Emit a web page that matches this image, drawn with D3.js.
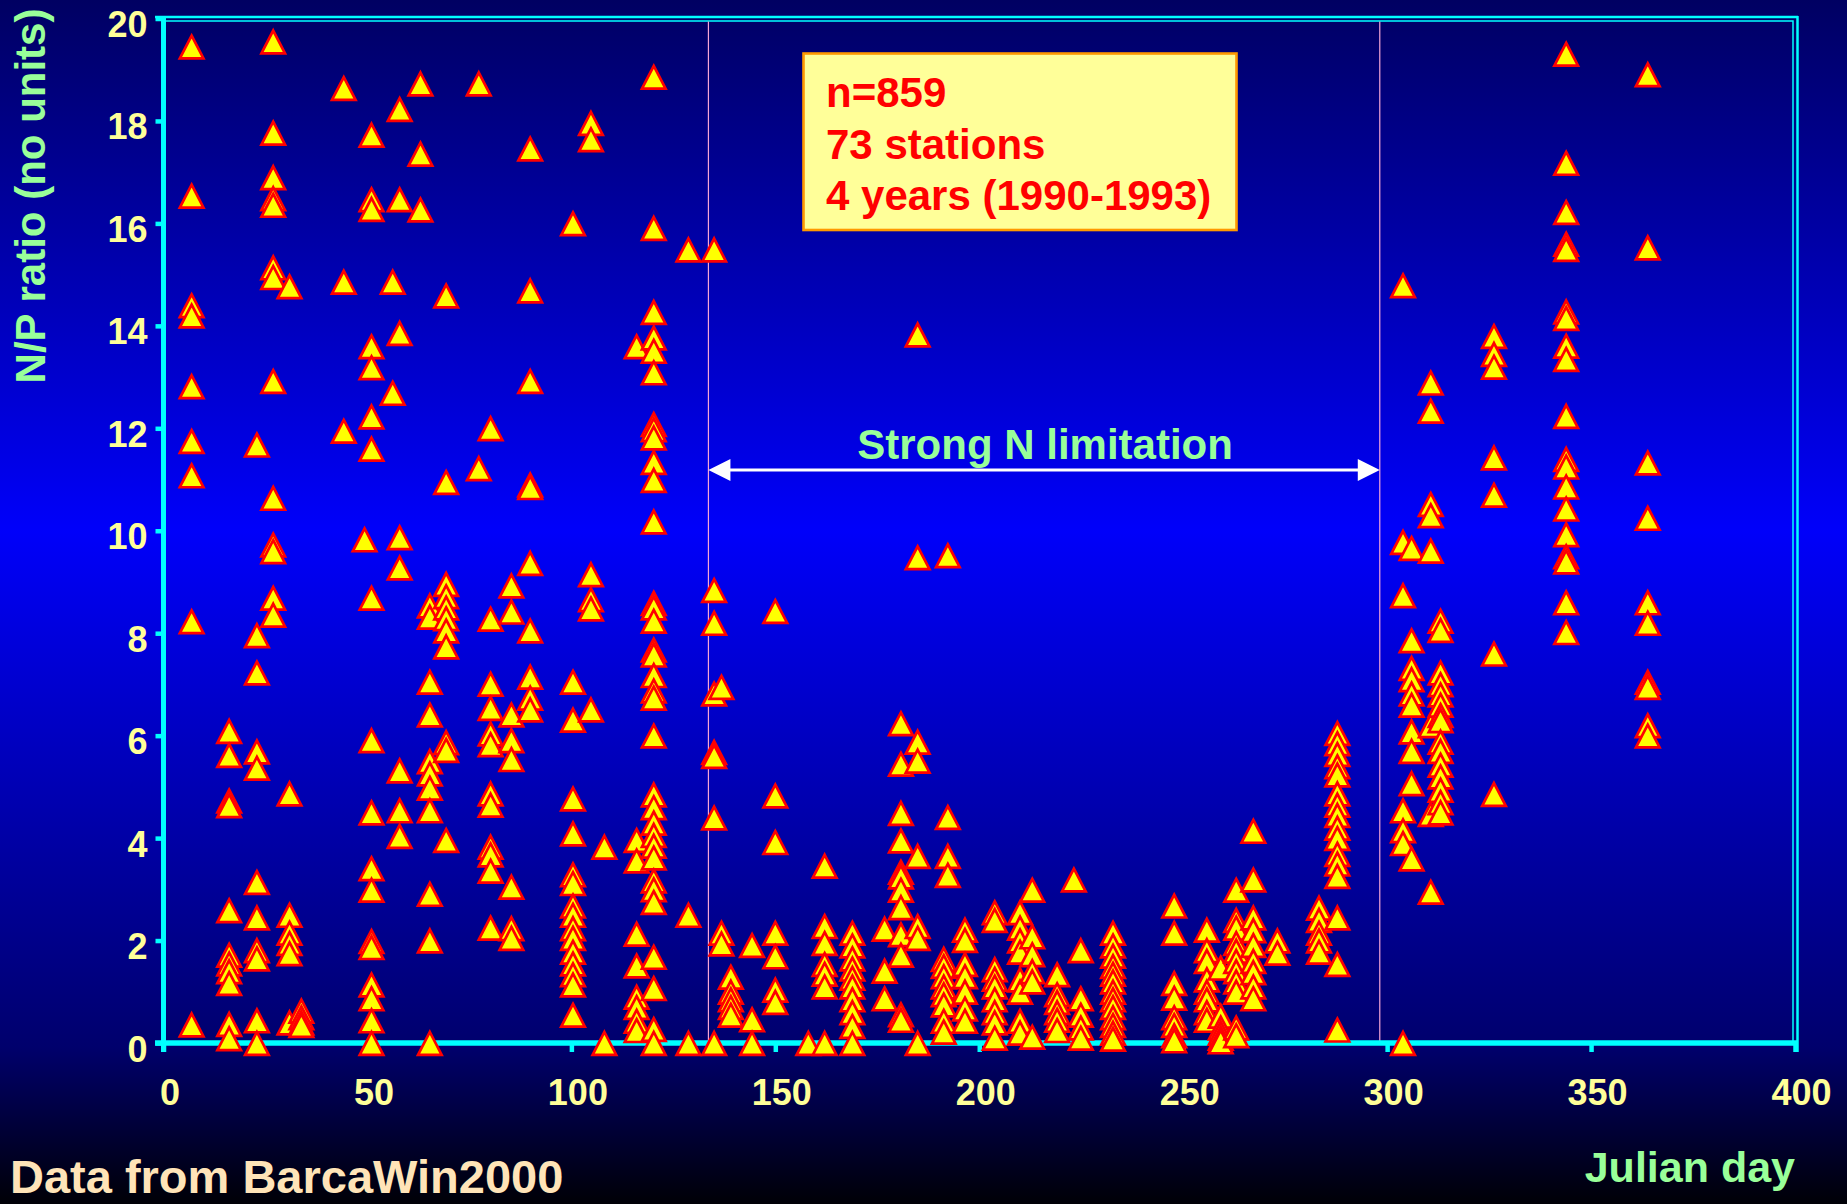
<!DOCTYPE html>
<html><head><meta charset="utf-8">
<script src="https://cdn.jsdelivr.net/npm/d3@7"></script>
<style>html,body{margin:0;padding:0;background:#000033;overflow:hidden}text{font-family:"Liberation Sans",Arial,sans-serif;font-weight:bold}</style>
</head><body>
<svg id="chart" width="1847" height="1204"></svg>
<script>
// ---- data ----
const xTickValues = [0, 50, 100, 150, 200, 250, 300, 350, 400];
const yTickValues = [0, 2, 4, 6, 8, 10, 12, 14, 16, 18, 20];
const limitationStartDay = 133.6;
const limitationEndDay = 298.2;
const infoLines = ["n=859", "73 stations", "4 years (1990-1993)"];

const julianDays = [6.9, 16.1, 22.9, 26.9, 30.9, 33.8, 44.2, 49.3, 51, 56.2, 57.9, 63, 65.3, 69.3, 77.3, 80.2, 85.3, 89.9,
  100.4, 104.8, 108.1, 116, 120.2, 128.7, 135, 136.8, 139.1, 144.3, 150, 158.1, 162.1, 168.9, 176.8, 180.8, 184.9,
  191.3, 192.3, 196.5, 203.8, 210, 213, 219.1, 223.2, 224.9, 232.8, 247.8, 255.8, 259.2, 263, 267.2, 273.1, 283.3,
  287.8, 303.9, 306, 310.7, 313.1, 326.2, 343.9, 363.9];

const npRatios = [
  [19.45, 16.54, 14.4, 14.2, 12.82, 11.75, 11.08, 8.23, 0.36],
  [6.09, 5.62, 4.73, 4.64, 2.59, 1.72, 1.55, 1.4, 1.17, 0.37, 0.09],
  [11.68, 7.96, 7.23, 5.69, 5.37, 3.14, 2.45, 1.81, 1.65, 0.44, 0],
  [19.55, 17.77, 16.9, 16.49, 16.36, 15.14, 14.95, 12.92, 10.64, 9.73, 9.6, 8.69, 8.36],
  [14.77, 4.87, 2.5, 2.15, 1.95, 1.75, 0.4],
  [0.63, 0.5, 0.4, 0.35],
  [18.64, 14.86, 11.95],
  [9.83],
  [17.73, 16.47, 16.28, 13.6, 13.19, 12.23, 11.6, 8.69, 5.91, 4.5, 3.41, 2.99, 1.99, 1.87, 1.14, 0.87, 0.44, 0],
  [14.86, 12.69],
  [18.23, 16.47, 13.86, 9.87, 9.28, 5.32, 4.54, 4.04],
  [18.73, 17.36, 16.27],
  [8.54, 8.32, 7.05, 6.41, 5.5, 5.26, 4.98, 4.54, 2.91, 2.0, 0],
  [14.59, 10.95, 8.96, 8.72, 8.5, 8.29, 8.05, 7.74, 5.87, 5.72, 3.96],
  [18.73, 11.22],
  [12.0, 8.28, 7.01, 6.54, 6.04, 5.83, 4.87, 4.65, 3.83, 3.68, 3.36, 2.25],
  [8.93, 8.42, 6.41, 5.91, 5.54, 3.05, 2.24, 2.05],
  [17.46, 14.69, 12.92, 10.9, 10.85, 9.37, 8.05, 7.15, 6.74, 6.51],
  [16.0, 7.05, 6.31, 4.77, 4.09, 3.29, 3.12, 2.68, 2.5, 2.24, 2.05, 1.78, 1.55, 1.34, 1.14, 0.55],
  [17.96, 17.64, 9.15, 8.66, 8.48, 6.51],
  [3.83, 0],
  [13.6, 3.96, 3.56, 2.13, 1.51, 0.9, 0.7, 0.43, 0.25],
  [18.86, 15.91, 14.27, 13.77, 13.51, 13.09, 12.08, 11.98, 11.82, 11.34, 10.99, 10.18, 8.59, 8.5, 8.24, 7.68, 7.58,
   7.18, 6.88, 6.74, 6.0, 4.85, 4.6, 4.3, 4.06, 3.85, 3.62, 3.17, 3.0, 2.75, 1.68, 1.07, 0.27, 0],
  [15.49, 2.5, 0],
  [15.49, 8.84, 8.2, 6.82, 5.68, 5.6, 4.4, 0],
  [6.95, 2.15, 1.94],
  [1.29, 1.0, 0.85, 0.7, 0.55],
  [1.91, 0.46, 0],
  [8.43, 4.83, 3.92, 2.15, 1.69, 1.04, 0.8],
  [0],
  [3.46, 2.28, 1.95, 1.54, 1.35, 1.1, 0],
  [2.15, 1.9, 1.65, 1.45, 1.27, 1.1, 0.85, 0.6, 0.33, 0],
  [2.23, 1.41, 0.87],
  [6.24, 5.45, 4.49, 3.95, 3.34, 3.25, 2.99, 2.65, 2.12, 1.72, 0.56, 0.45],
  [13.83, 9.48, 5.88, 5.51, 3.65, 2.28, 2.05, 0],
  [1.64, 1.5, 1.3, 1.1, 0.95, 0.75, 0.43, 0.22],
  [9.52, 4.41, 3.65, 3.28],
  [2.21, 2.01, 1.54, 1.3, 1.0, 0.67, 0.43],
  [2.55, 2.4, 1.44, 1.25, 1.1, 0.85, 0.6, 0.4, 0.1],
  [2.55, 2.25, 2.0, 1.78, 1.24, 1.0, 0.43, 0.2],
  [2.99, 2.08, 1.73, 1.4, 1.2, 0.12],
  [1.34, 0.95, 0.8, 0.6, 0.45, 0.25],
  [3.19],
  [1.81, 0.87, 0.55, 0.3, 0.1],
  [2.15, 1.9, 1.7, 1.5, 1.35, 1.2, 1.0, 0.85, 0.7, 0.5, 0.35, 0.2, 0.08],
  [2.68, 2.15, 1.17, 0.88, 0.5, 0.35, 0.15, 0.05],
  [2.21, 1.81, 1.6, 1.24, 1.0, 0.85, 0.6, 0.45],
  [1.47, 0.53, 0.3, 0.2, 0.1, 0.03],
  [2.99, 2.4, 2.25, 1.95, 1.8, 1.6, 1.4, 1.2, 1.0, 0.3, 0.15],
  [4.14, 3.19, 2.45, 2.2, 1.91, 1.6, 1.38, 1.1, 0.87],
  [2.0, 1.76],
  [2.64, 2.4, 2.15, 2.0, 1.78],
  [6.05, 5.85, 5.64, 5.4, 5.24, 4.87, 4.65, 4.45, 4.2, 4.0, 3.69, 3.5, 3.26, 2.45, 1.54, 0.26],
  [14.79, 9.78, 8.74, 4.54, 4.15, 3.9, 0],
  [9.66, 7.86, 7.32, 7.1, 6.82, 6.6, 6.08, 5.7, 5.07, 3.6],
  [12.89, 12.34, 10.52, 10.3, 9.61, 6.2, 4.47, 2.95],
  [8.24, 8.06, 7.23, 7.0, 6.8, 6.6, 6.4, 6.3, 5.88, 5.7, 5.43, 5.2, 4.94, 4.7, 4.5],
  [13.8, 13.45, 13.2, 11.43, 10.7, 7.6, 4.86],
  [19.31, 17.18, 16.22, 15.6, 15.5, 14.28, 14.15, 13.61, 13.35, 12.24, 11.4, 11.25, 10.86, 10.43, 9.93, 9.5, 9.4, 8.6, 8.02],
  [18.91, 15.53, 11.33, 10.25, 8.6, 8.2, 7.05, 6.95, 6.2, 6.0]
];

// ---- drawing ----
const W = 1847, H = 1204;
const svg = d3.select("#chart");
const x = d3.scaleLinear().domain([0, 400]).range([163.5, 1795]);
const y = d3.scaleLinear().domain([0, 20]).range([1043, 18.5]);

const defs = svg.append("defs");
const grad = defs.append("linearGradient").attr("id", "bg").attr("x1", 0).attr("y1", 0).attr("x2", 0).attr("y2", 1);
[[0, "#000062"], [0.44, "#0000fa"], [0.87, "#00006c"], [1, "#000006"]].forEach(([o, c]) =>
  grad.append("stop").attr("offset", o).attr("stop-color", c));
svg.append("rect").attr("width", W).attr("height", H).attr("fill", "url(#bg)");

const cyan = "#00ffff";
// plot frame (double line on top and right)
svg.append("rect").attr("x", x(0)).attr("y", y(20) + 2.5).attr("width", x(400) - x(0) - 2)
  .attr("height", y(0) - y(20) - 2.5).attr("fill", "none").attr("stroke", cyan).attr("stroke-width", 1.5);
svg.append("line").attr("x1", 155).attr("x2", x(400) + 3).attr("y1", y(20) - 1.5).attr("y2", y(20) - 1.5)
  .attr("stroke", cyan).attr("stroke-width", 2.5);
svg.append("line").attr("x1", x(400) + 2.5).attr("x2", x(400) + 2.5).attr("y1", y(20) - 2.5).attr("y2", y(0) + 9)
  .attr("stroke", cyan).attr("stroke-width", 2.5);

// strong N limitation guide lines
[limitationStartDay, limitationEndDay].forEach(d =>
  svg.append("line").attr("x1", x(d)).attr("x2", x(d)).attr("y1", y(20) + 3).attr("y2", y(0))
    .attr("stroke", "#f4a6d6").attr("stroke-width", 1.2));

// axes
const yAxis = d3.axisLeft(y).tickValues(yTickValues).tickSize(8).tickPadding(8).tickSizeOuter(0);
const gy = svg.append("g").attr("transform", `translate(${x(0)},0)`).call(yAxis);
gy.select(".domain").remove();
gy.selectAll(".tick line").attr("stroke", cyan).attr("stroke-width", 4.5);
gy.selectAll(".tick text").attr("fill", "#ffff99").attr("font-size", 36).attr("dy", "0.5em")
  .attr("font-family", "Liberation Sans, Arial, sans-serif").attr("font-weight", "bold");

const xAxis = d3.axisBottom(x).tickValues(xTickValues).tickSize(9).tickSizeOuter(0);
const gx = svg.append("g").attr("transform", `translate(0,${y(0)})`).call(xAxis);
gx.select(".domain").remove();
gx.selectAll(".tick line").attr("stroke", cyan).attr("stroke-width", 4.5);
gx.selectAll(".tick text").attr("fill", "#ffff99").attr("font-size", 36).attr("y", 62).attr("dy", 0).attr("dx", 6)
  .attr("font-family", "Liberation Sans, Arial, sans-serif").attr("font-weight", "bold");

svg.append("line").attr("x1", x(0)).attr("x2", x(0)).attr("y1", y(20) - 2.5).attr("y2", y(0) + 9)
  .attr("stroke", cyan).attr("stroke-width", 5);
svg.append("line").attr("x1", 155).attr("x2", x(400) + 3).attr("y1", y(0)).attr("y2", y(0))
  .attr("stroke", cyan).attr("stroke-width", 5.5);

// axis titles & footer
svg.append("text").attr("transform", `translate(45,${196}) rotate(-90)`).attr("text-anchor", "middle")
  .attr("font-size", 42).attr("fill", "#99ff99").text("N/P ratio (no units)");
svg.append("text").attr("x", x(400)).attr("y", 1182).attr("text-anchor", "end")
  .attr("font-size", 43).attr("fill", "#99ff99").text("Julian day");
svg.append("text").attr("x", 10).attr("y", 1193).attr("font-size", 47).attr("fill", "#ffe4b8")
  .text("Data from BarcaWin2000");

// info box
svg.append("rect").attr("x", 803.5).attr("y", 53.5).attr("width", 433).attr("height", 176.5)
  .attr("fill", "#ffff99").attr("stroke", "#ff9900").attr("stroke-width", 2.6);
infoLines.forEach((t, i) =>
  svg.append("text").attr("x", 826).attr("y", 107 + i * 51.6).attr("font-size", 42).attr("fill", "#ff0000").text(t));

// arrow + label
const ay = 470;
svg.append("line").attr("x1", x(limitationStartDay) + 18).attr("x2", x(limitationEndDay) - 18)
  .attr("y1", ay).attr("y2", ay).attr("stroke", "#ffffff").attr("stroke-width", 3);
svg.append("path").attr("fill", "#ffffff")
  .attr("d", `M${x(limitationStartDay)},${ay} l22,-11 l0,22 Z M${x(limitationEndDay)},${ay} l-22,-11 l0,22 Z`);
svg.append("text").attr("x", (x(limitationStartDay) + x(limitationEndDay)) / 2 + 1).attr("y", 459)
  .attr("text-anchor", "middle").attr("font-size", 42).attr("fill", "#99ff99").text("Strong N limitation");

// points
const points = [];
julianDays.forEach((d, i) => npRatios[i].forEach(v => points.push({ day: d, np: v })));
svg.append("g").selectAll("path").data(points).join("path")
  .attr("transform", p => `translate(${x(p.day)},${y(p.np)})`)
  .attr("d", "M0,-11 L11.8,11.8 L-11.8,11.8 Z")
  .attr("fill", "#ffff00").attr("stroke", "#ff0000").attr("stroke-width", 2.7);
</script>
</body></html>
